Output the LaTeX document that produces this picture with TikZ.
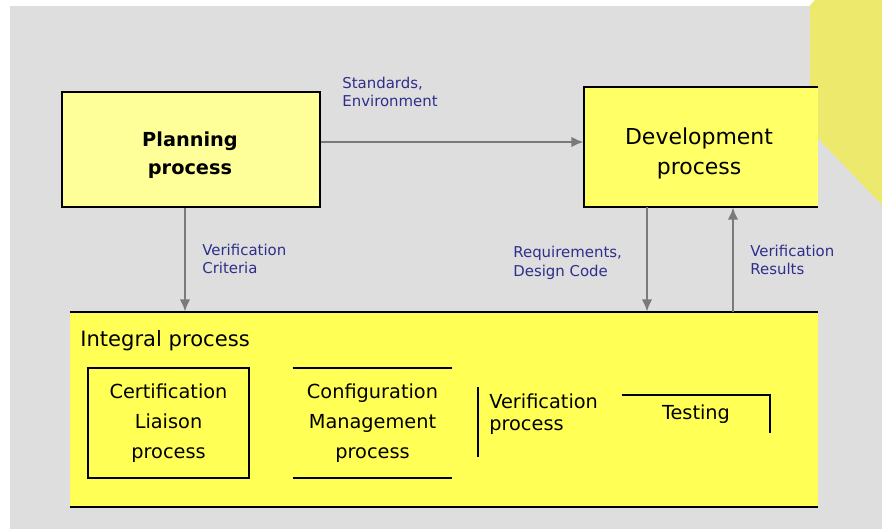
\documentclass[tikz,border=0pt]{standalone}
\usepackage{fontspec}
\setmainfont{DejaVu Sans}
\usetikzlibrary{arrows.meta}
\definecolor{bggray}{HTML}{DEDEDE}
\definecolor{planfill}{HTML}{FFFF99}
\definecolor{devfill}{HTML}{FFFF66}
\definecolor{intfill}{HTML}{FFFF55}
\definecolor{tabfill}{HTML}{ECE96D}
\definecolor{flowgray}{HTML}{7A7A7A}
\definecolor{labelblue}{HTML}{2E2E8C}
\tikzset{
  procbox/.style={minimum width=#1, inner sep=0pt, align=center},
  boxtext/.style={inner sep=0pt, align=center},
  flow/.style={draw=flowgray, line width=1.3pt, -{Latex[length=7pt,width=6pt]}},
  flowlabel/.style={text=labelblue, font=\fontsize{8.5}{10.5}\selectfont, align=left, inner sep=0pt, anchor=west},
  edge/.style={line width=1.3pt, black},
}
\begin{document}
\begin{tikzpicture}[x=0.02cm, y=-0.02cm]
  % canvas
  \fill[white] (0,0) rectangle (882,529);
  \useasboundingbox (0,0) rectangle (882,529);
  \fill[bggray] (10,6) rectangle (882,529);
  % yellow tab on the right
  \fill[tabfill] (815,0) -- (882,0) -- (882,205) -- (810,130) -- (810,5) -- cycle;

  % main process boxes
  \node[procbox=5.16cm, minimum height=2.3cm, fill=planfill, draw=black, line width=1.3pt] (plan) at (191,149.5) {};
  \node[boxtext, font=\bfseries\fontsize{11}{16}\selectfont] (plantext) at (190,155) {Planning\\process};
  \node[procbox=4.68cm, minimum height=2.4cm, fill=devfill] (dev) at (701,147) {};
  \draw[edge] (dev.north east) -- (dev.north west) -- (dev.south west) -- (dev.south east);
  \node[boxtext, font=\fontsize{12.5}{17}\selectfont] (devtext) at (699,153) {Development\\process};

  % integral process band
  \node[procbox=14.96cm, minimum height=3.9cm, fill=intfill] (integral) at (444,409.5) {};
  \draw[edge] (integral.north west) -- (integral.north east);
  \draw[edge] (integral.south west) -- (integral.south east);
  \node[anchor=west, inner sep=0pt, font=\fontsize{12}{14}\selectfont] (inttitle) at (80,341) {Integral process};

  % sub-processes
  \node[procbox=3.22cm, minimum height=2.2cm, draw=black, line width=1.3pt,
        font=\fontsize{11}{17}\selectfont] (cert) at (168.5,423) {Certification\\Liaison\\process};
  \node[procbox=3.18cm, minimum height=2.2cm,
        font=\fontsize{11}{17}\selectfont] (config) at (372.5,423) {Configuration\\Management\\process};
  \draw[edge] (config.north west) -- (config.north east);
  \draw[edge] (config.south west) -- (config.south east);

  \coordinate (vtop) at (478,387);
  \coordinate (vbot) at (478,457);
  \draw[edge] (vtop) -- (vbot);
  \node[anchor=west, inner sep=0pt, align=left, font=\fontsize{11}{12.5}\selectfont] (verif) at (489,414) {Verification\\process};
  \node[procbox=2.96cm, minimum height=0.76cm, font=\fontsize{11}{13}\selectfont] (test) at (696,414) {Testing};
  \draw[edge] (test.north west) -- (test.north east) -- (test.south east);

  % data flows
  \coordinate (yh) at (0,142);
  \coordinate (xa) at (185,0);
  \coordinate (xb) at (647,0);
  \coordinate (xc) at (733,0);
  \draw[flow] (plan.east |- yh) -- (dev.west |- yh);
  \draw[flow] (plan.south -| xa) -- (integral.north -| xa);
  \draw[flow] (dev.south -| xb) -- (integral.north -| xb);
  \draw[flow] (integral.north -| xc) -- (dev.south -| xc);

  % flow labels
  \node[flowlabel] (lstd) at (342,92) {Standards,\\Environment};
  \node[flowlabel] (lcrit) at (202,259) {Verification\\Criteria};
  \node[flowlabel] (lreq) at (513,263) {Requirements,\\Design Code};
  \node[flowlabel] (lres) at (750,260) {Verification\\Results};
\end{tikzpicture}
\end{document}
